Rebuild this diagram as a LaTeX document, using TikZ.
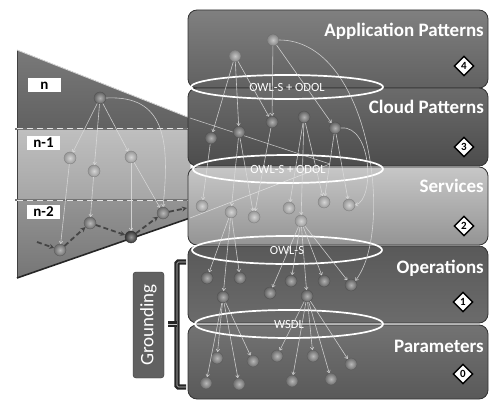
\documentclass[tikz,border=0pt]{standalone}
\usepackage{fontspec}
\setmainfont{Carlito}
\usetikzlibrary{arrows.meta,shapes.geometric}

\definecolor{linkcol}{HTML}{DCDCDC}
\definecolor{flowcol}{HTML}{454545}
\colorlet{balldark}{black!55}
\colorlet{ballmid}{black!50}
\colorlet{balllight}{black!30}
\colorlet{ballapp}{black!40}
\colorlet{ballblack}{black!75}

\tikzset{
  layer/.style={rounded corners=9pt, draw=black!80, line width=0.8pt},
  layertitle/.style={anchor=base east, inner sep=0pt, text=white,
    font=\bfseries\fontsize{19}{19}\selectfont},
  levelmark/.style={diamond, draw=black, line width=1.4pt, fill=white,
    inner sep=0pt, minimum size=20pt, font=\bfseries\fontsize{11}{11}\selectfont},
  langring/.style={ellipse, draw=white, line width=1.7pt, inner sep=0pt,
    text=white, font=\fontsize{12.5}{12.5}\selectfont},
  ballnode/.style={circle, minimum size=12pt, inner sep=0pt,
    shading=radial, inner color=#1!55!white, outer color=#1!85!black,
    draw=#1!70!black, line width=0.3pt},
  link/.style={draw=linkcol, line width=0.6pt, opacity=0.85,
    -{To[length=3pt,width=4pt]}},
  flow/.style={draw=flowcol, line width=1.8pt, dash pattern=on 5pt off 3pt,
    -{Stealth[length=5pt,width=5pt]}},
  levelbox/.style={fill=white, inner sep=0pt, minimum width=33pt,
    minimum height=14pt, font=\bfseries\fontsize{15}{15}\selectfont},
  persp/.style={draw=white!85!gray, line width=0.6pt, opacity=0.7},
  groundbox/.style={rounded corners=3pt, draw=black!80, fill=black!62,
    text=white, inner sep=0pt, font=\fontsize{19}{19}\selectfont},
}

\begin{document}
\begin{tikzpicture}[x=1pt,y=-1pt]
\useasboundingbox (0,0) rectangle (490,401);

% ---------- abstraction funnel ----------
\begin{scope}
  \clip (17,50) -- (190,118) -- (190,218) -- (17,278) -- cycle;
  \fill[top color=black!52, bottom color=black!62] (10,45) rectangle (195,129);
  \fill[top color=black!25, bottom color=black!35] (10,129) rectangle (195,200);
  \fill[top color=black!42, bottom color=black!55] (10,200) rectangle (195,285);
\end{scope}
\draw[black!75, line width=1pt] (17,50) -- (17,278);
\draw[white!70!gray, line width=0.8pt] (17,50) -- (190,118);
\draw[black!85, line width=1.6pt] (17,278) -- (190,218);
\foreach \yy in {129,200}{
  \draw[black!55, line width=1.4pt] (15,\yy) -- (190,\yy);
  \draw[white!80!gray, line width=1pt, dash pattern=on 6pt off 4pt] (17,\yy) -- (190,\yy);
}

\node[levelbox] (ln)  at (44.5,85.5) {n};
\node[levelbox] (ln1) at (43.5,143) {n-1};
\node[levelbox] (ln2) at (43.5,212) {n-2};

% ---------- layer boxes ----------
\path[layer, top color=black!50, bottom color=black!62] (188,10) rectangle (488,88);
\path[layer, top color=black!58, bottom color=black!70] (188,88) rectangle (488,166);
\path[layer, top color=black!22, bottom color=black!42] (188,167) rectangle (488,245);
\path[layer, top color=black!65, bottom color=black!58] (188,246) rectangle (488,323);
\path[layer, top color=black!55, bottom color=black!65] (188,325) rectangle (488,399);

\node[layertitle] (tapp) at (484,37)  {Application Patterns};
\node[layertitle] (tcld) at (484,113.5) {Cloud Patterns};
\node[layertitle] (tsrv) at (484,193) {Services};
\node[layertitle] (tops) at (484,273) {Operations};
\node[layertitle] (tpar) at (484,352) {Parameters};

\node[levelmark] (m4) at (464,66)  {4};
\node[levelmark] (m3) at (464,147) {3};
\node[levelmark] (m2) at (464,226) {2};
\node[levelmark] (m1) at (463,302) {1};
\node[levelmark] (m0) at (463,374) {0};

% perspective lines from the funnel into the services layer
\coordinate (ftop) at (190,118);
\coordinate (fbot) at (190,218);
\coordinate (fvan) at (330,164);
\draw[persp] (ftop) -- (fvan);
\draw[persp] (fbot) -- (fvan);

% ---------- description languages ----------
\node[langring, minimum width=192pt, minimum height=24pt] (r1) at (287,87)  {OWL-S + ODOL};
\node[langring, minimum width=190pt, minimum height=28pt] (r2) at (288,169) {OWL-S + ODOL};
\node[langring, minimum width=190pt, minimum height=28pt] (r3) at (287,250) {OWL-S};
\node[langring, minimum width=188pt, minimum height=28pt] (r4) at (289,324) {WSDL};

% ---------- funnel graph ----------
\node[ballnode=balldark] (F0) at (100,98) {};
\node[ballnode=balllight] (F1) at (70,158) {};
\node[ballnode=balllight] (F2) at (94,171) {};
\node[ballnode=balllight] (F3) at (131,157) {};
\node[ballnode=ballmid] (G1) at (60,250) {};
\node[ballnode=ballmid] (G2) at (90,223) {};
\node[ballnode=ballblack] (G3) at (131,237) {};
\node[ballnode=ballmid] (G4) at (163,213) {};

\draw[link] (F0) -- (F1);
\draw[link] (F0) -- (F2);
\draw[link] (F0) -- (F3);
\draw[link] (F0.east) .. controls (165,95) and (170,140) .. (G4.north);
\draw[link] (F1) -- (G1);
\draw[link] (F2) -- (G2);
\draw[link] (F3) -- (G3);
\draw[link] (F3) -- (G4);

\coordinate (fin) at (37,242);
\coordinate (fout) at (187,208);
\draw[flow] (fin) -- (G1);
\draw[flow] (G1) -- (G2);
\draw[flow] (G2) -- (G3);
\draw[flow] (G3) -- (G4);
\draw[flow] (G4) -- (fout);

% ---------- layered graph ----------
\foreach \n/\x/\y in {A1/235/56, A2/273/40}
  \node[ballnode=ballapp] (\n) at (\x,\y) {};
\foreach \n/\x/\y in {C1/211/138, C2/239/132, C3/272/122, C4/304/117, C5/335/128}
  \node[ballnode=balldark] (\n) at (\x,\y) {};
\foreach \n/\x/\y in {S1/202/206, S2/231/212, S3/254/217, S4/289/208, S5/301/221, S6/324/202, S7/349/205}
  \node[ballnode=balllight] (\n) at (\x,\y) {};
\foreach \n/\x/\y in {O1/207/278, O2/223/297, O3/240/278, O4/270/293, O5/291/281, O6/307/296, O7/324/281, O8/351/285}
  \node[ballnode=balldark] (\n) at (\x,\y) {};
\foreach \n/\x/\y in {P1/206/383, P2/217/358, P3/239/384, P4/253/361, P5/277/356, P6/292/381, P7/313/356, P8/331/379, P9/351/364}
  \node[ballnode=ballmid] (\n) at (\x,\y) {};

\foreach \a/\b in {A1/C1, A1/C2, A1/C3, A2/C3, A2/C5,
                   C1/S1, C2/S2, C2/S3, C3/S3, C4/S4, C4/S5, C4/S6, C5/S6, C5/S7,
                   S2/O1, S2/O2, S2/O3, S5/O4, S5/O5, S5/O6, S5/O7, S5/O8,
                   O2/P1, O2/P2, O2/P3, O2/P4, O6/P5, O6/P6, O6/P7, O6/P8, O6/P9}
  \draw[link] (\a) -- (\b);
\draw[link] (A2.east) .. controls (370,40) and (395,230) .. (O8.north east);
\draw[link] (C5.east) .. controls (372,125) and (375,200) .. (S7.east);

% ---------- grounding ----------
\node[groundbox, rotate=90, minimum width=106pt, minimum height=31pt] (gr) at (148.5,325) {Grounding};
\coordinate (bt) at (186,262);
\coordinate (bb) at (186,387);
\coordinate (bm) at (168,324);
\draw[black!85, line width=2.4pt, double=gray!45, double distance=0.6pt, rounded corners=1.5pt]
  (bt) -- (177,262) -- (177,387) -- (bb);
\draw[black!85, line width=2.4pt, double=gray!45, double distance=0.6pt]
  (177,324) -- (bm);

\end{tikzpicture}
\end{document}
